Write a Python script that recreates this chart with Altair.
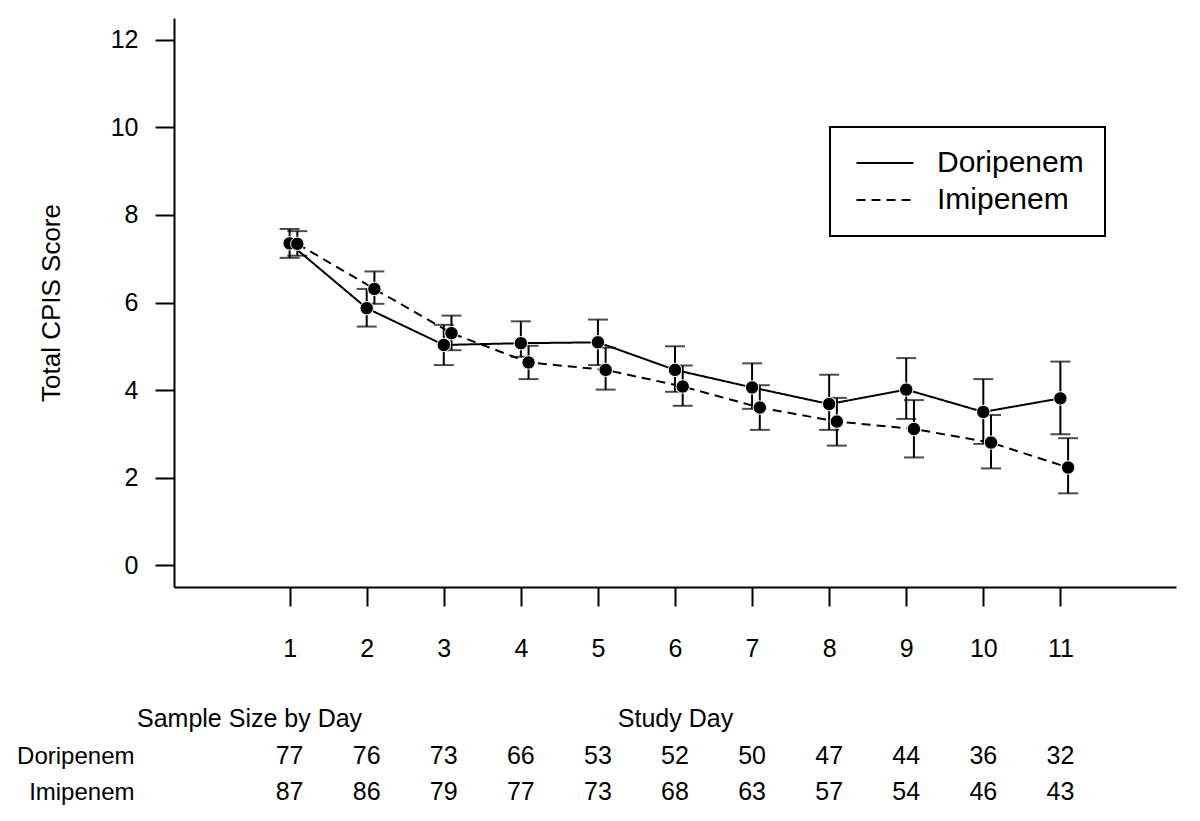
import altair as alt
import pandas as pd

# ---- data ----
days = list(range(1, 12))
series_names = ["Doripenem", "Imipenem"]

dori_mean = [7.35, 5.87, 5.03, 5.07, 5.09, 4.46, 4.06, 3.68, 4.01, 3.50, 3.81]
dori_lo = [7.02, 5.45, 4.57, 4.76, 4.57, 3.96, 3.57, 3.09, 3.34, 2.77, 2.99]
dori_hi = [7.68, 6.31, 5.49, 5.57, 5.61, 5.00, 4.61, 4.35, 4.73, 4.25, 4.65]

imi_mean = [7.34, 6.31, 5.30, 4.63, 4.46, 4.08, 3.60, 3.28, 3.11, 2.80, 2.23]
imi_lo = [7.07, 5.97, 4.91, 4.25, 4.01, 3.64, 3.09, 2.73, 2.46, 2.21, 1.64]
imi_hi = [7.63, 6.71, 5.70, 5.01, 4.97, 4.56, 4.11, 3.82, 3.77, 3.43, 2.90]

dori_n = [77, 76, 73, 66, 53, 52, 50, 47, 44, 36, 32]
imi_n = [87, 86, 79, 77, 73, 68, 63, 57, 54, 46, 43]

y_ticks = [0, 2, 4, 6, 8, 10, 12]

rows = []
for name, mean, lo, hi, n in [
    ("Doripenem", dori_mean, dori_lo, dori_hi, dori_n),
    ("Imipenem", imi_mean, imi_lo, imi_hi, imi_n),
]:
    for d, m, l, h, k in zip(days, mean, lo, hi, n):
        rows.append(dict(series=name, day=d, mean=m, lo=l, hi=h, n=k))
df = pd.DataFrame(rows)

FONT = "Liberation Sans"
FS = 25

base = alt.Chart(df).transform_calculate(
    xpos="datum.day + (datum.series == 'Imipenem' ? 0.1 : 0)"
)

xscale = alt.Scale(domain=[-0.5, 12.5], nice=False, zero=False)
yscale = alt.Scale(domain=[-0.5, 12.5], nice=False, zero=False)

x_axis = alt.Axis(values=days, title="Study Day", labelPadding=30, titlePadding=45,
                  labelFlush=False, format="d")
y_axis = alt.Axis(values=y_ticks, title="Total CPIS Score", labelPadding=17,
                  titlePadding=46, titleFontSize=26, format="d")

x_enc = alt.X("xpos:Q", scale=xscale, axis=x_axis)

bars = base.mark_rule(color="black", strokeWidth=2).encode(
    x=x_enc,
    y=alt.Y("lo:Q", scale=yscale, axis=y_axis),
    y2="hi:Q",
    detail="series:N",
)

caps = base.transform_fold(["lo", "hi"], as_=["bound", "val"]).mark_tick(
    orient="horizontal", color="black", size=20, thickness=2
).encode(
    x=x_enc,
    y=alt.Y("val:Q", scale=yscale, axis=y_axis),
    detail="series:N",
)

lines = base.mark_line(color="black", strokeWidth=2).encode(
    x=x_enc,
    y=alt.Y("mean:Q", scale=yscale, axis=y_axis),
    strokeDash=alt.StrokeDash(
        "series:N",
        scale=alt.Scale(domain=series_names, range=[[1, 0], [9, 6]]),
        legend=alt.Legend(
            title=None,
            orient="none",
            legendX=656,
            legendY=109,
            labelFontSize=30,
            labelFont=FONT,
            labelColor="black",
            symbolType="M-1,0H5",
            symbolSize=361,
            symbolStrokeWidth=2,
            symbolStrokeColor="black",
            symbolFillColor="transparent",
            labelOffset=56,
            rowPadding=7,
            padding=21,
            strokeColor="black",
        ),
    ),
)

points = base.mark_circle(size=180, color="black", opacity=1, stroke="white",
                          strokeWidth=1).encode(
    x=x_enc,
    y=alt.Y("mean:Q", scale=yscale, axis=y_axis),
    detail="series:N",
)

top = alt.layer(bars, caps, lines, points).properties(width=1002, height=569)

table = alt.Chart(df).mark_text(font=FONT, fontSize=FS, color="black").encode(
    x=alt.X("day:Q", scale=xscale, axis=None),
    y=alt.Y(
        "series:N",
        scale=alt.Scale(domain=series_names, type="point", padding=0.5),
        axis=alt.Axis(title=None, domain=False, ticks=False, tickSize=0,
                      labelPadding=40, labelFontSize=24),
    ),
    text="n:Q",
).properties(
    width=1002,
    height=72,
    title=alt.TitleParams("Sample Size by Day", anchor="start", frame="group",
                          dx=-37, fontSize=FS, font=FONT, fontWeight="normal",
                          color="black", offset=6),
)

chart = alt.vconcat(top, table, spacing=151, bounds="flush").properties(
    padding={"left": 8, "top": 10, "right": 5, "bottom": 5}
).configure_view(stroke=None).configure_axis(
    domainColor="black",
    tickColor="black",
    labelColor="black",
    titleColor="black",
    labelFont=FONT,
    titleFont=FONT,
    labelFontSize=FS,
    titleFontSize=FS,
    titleFontWeight="normal",
    grid=False,
    domainWidth=2,
    tickWidth=2,
    tickSize=19,
).configure_legend(strokeWidth=2)

chart.save("out.html", embed_options={"renderer": "svg", "actions": False})
